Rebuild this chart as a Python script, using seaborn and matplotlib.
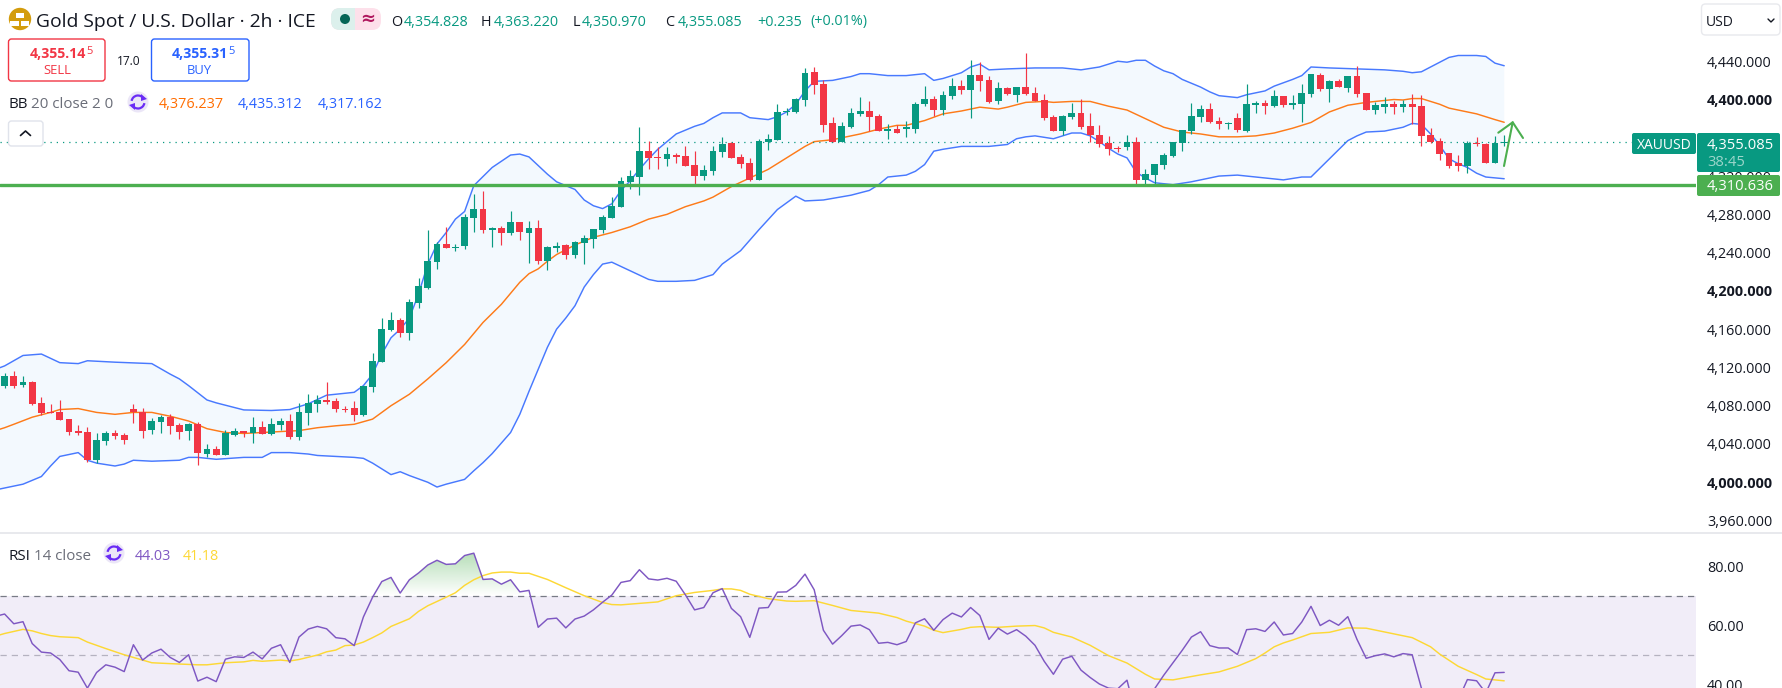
import numpy as np
import matplotlib
matplotlib.use("Agg")
import matplotlib.pyplot as plt
from matplotlib.patches import Circle, FancyBboxPatch, Rectangle, Arc, Polygon
import seaborn as sns

opens = [4101,4111,4102,4105,4083,4073,4073,4066,4054,4052.5,
         4023,4043,4052,4049,4077,4073,4055,4063,4068,4060,
         4054,4061,4030,4035,4029,4049,4054,4051,4058,4050,
         4060,4064,4047,4072,4082,4086,4085,4077,4078,4070,
         4100,4126,4159,4170,4156,4187,4203,4230,4249,4245,
         4247,4276,4286,4264,4266,4261,4272,4261,4266,4231,
         4245,4248,4238,4250,4254,4264,4276,4288,4314,4319,
         4346,4340,4338,4342,4341,4332,4320,4325,4345,4355,
         4340,4334,4316,4356,4358,4387,4387,4400,4429,4416,
         4375,4356,4371,4385,4388,4383,4367,4369,4369,4369,
         4395,4401,4389,4404,4414,4410,4426,4420,4398,4412,
         4405,4413,4407,4399,4382,4367,4382,4386,4372,4363,
         4355,4349,4350,4356,4316,4321,4332,4341,4355,4367,
         4382,4390,4378,4374,4381,4367,4394,4396,4393,4404,
         4394,4395,4406,4426,4411,4419,4412,4425,4407,4389,
         4392,4395,4392,4395,4393,4363,4357,4344,4334,4331,
         4355,4354,4334,4354.828]
highs = [4114,4116,4111,4106,4089,4082,4086,4066,4060,4058,
         4051,4054,4055,4051,4082,4078,4067,4070,4071,4062,
         4062,4063,4040,4038,4055,4057,4054,4068,4064,4067,
         4067,4071,4083,4092,4091,4105,4088,4080,4085,4101,
         4135,4172,4178,4172,4192,4213,4264,4251,4267,4249,
         4280,4301,4304,4267,4268,4284,4272,4273,4274,4247,
         4251,4249,4252,4258,4265,4279,4298,4319,4326,4371,
         4357,4350,4350,4344,4351,4346,4332,4351,4361,4356,
         4343,4339,4359,4364,4395,4391,4402,4433,4434,4420,
         4382,4376,4391,4403,4398,4385,4374,4373,4378,4397,
         4414,4404,4409,4423,4420,4441,4439,4425,4418,4413,
         4413,4449,4413,4406,4384,4384,4396,4401,4386,4373,
         4362,4351,4363,4361,4327,4333,4344,4356,4368,4396,
         4394,4396,4382,4376,4386,4416,4398,4400,4410,4404,
         4405,4416,4427,4428,4420,4421,4425,4435,4407,4397,
         4403,4398,4399,4406,4405,4370,4360,4344,4342,4357,
         4361,4355,4362,4363.22]
lows = [4098,4098,4100,4081,4070,4072,4065,4049,4049,4021.5,
        4020,4039,4045,4040,4062,4046,4050,4052,4050,4045,
        4044,4018,4026,4028.5,4029,4048,4047,4041,4050,4049,
        4055,4045,4044,4060,4073,4082,4073,4073,4064,4069,
        4094,4126,4158,4152,4149,4182,4202,4223,4245,4242,
        4244,4262,4260,4246,4248,4258,4253,4229,4228,4222,
        4241,4233,4234,4228,4245,4260,4276,4288,4307,4300,
        4327,4327,4331,4334,4331,4312,4316,4321,4340,4339,
        4328,4315,4316,4347,4358,4384,4386,4393,4406,4366,
        4356,4356,4370,4383,4367,4367,4359,4365,4361,4365,
        4393,4383,4384,4401,4406,4381,4409,4396,4395,4405,
        4397,4405,4398,4379,4367,4363,4380,4369,4356,4350,
        4342,4345,4347,4310,4310,4310,4327,4340,4346,4364,
        4377,4375,4369,4369,4366,4366,4386,4385,4392,4392,
        4390,4376,4403,4409,4397,4413,4408,4403,4389,4385,
        4386,4385,4387,4374,4351,4355,4337,4328,4325,4323,
        4351,4334,4334,4350.97]
closes = [4111,4101,4105,4082,4072,4072.4,4065,4053,4051.5,4023,
          4044,4052,4048,4044,4073,4054,4064,4068,4059,4053,
          4061,4031,4035,4028.5,4051,4054,4051.5,4058,4050.5,4061,
          4064,4047,4073,4083,4086,4084,4077,4076,4070,4101,
          4127,4160,4170,4156,4188,4205,4231,4249,4245,4246,
          4277,4286,4264,4266,4261,4272,4262,4266,4231,4246,
          4247,4238,4251,4255,4265,4277,4289,4315,4320,4346,
          4339,4339,4343,4340,4331,4320,4326,4346,4354,4339,
          4333,4316,4357,4359,4387,4388,4401,4428,4415,4373,
          4356,4372,4386,4388,4382,4367,4369,4365,4371,4395,
          4401,4389,4405,4414,4410,4426,4419,4397,4412,4406,
          4413,4406,4398,4381,4367,4383,4386,4371,4363,4354,
          4348,4348,4356,4316,4322,4333,4342,4356,4368,4383,
          4390,4377,4374,4375,4368,4395,4396,4393,4404,4394,
          4396,4407,4427,4411,4419,4413,4425,4406,4389,4394,
          4395,4392,4395,4392,4362,4356,4343,4331,4331,4355,
          4353,4334,4354.8,4355.085]

# bollinger bands, read at the bars where the line visibly bends
upper_bars = [-1,0,2,4,6,8,9,12,16,18,19,20,22,23,26,29,31,33,35,38,39,40,41,42,43,44,45,46,47,48,49,50,51,53,55,56,57,59,60,62,63,
              64,65,66,67,68,69,70,71,73,75,76,77,78,80,81,83,84,85,86,87,88,90,92,93,94,96,98,100,101,102,104,105,106,107,109,112,
              115,117,119,121,122,123,124,125,126,127,128,130,131,132,134,135,137,138,140,141,142,144,147,150,152,153,154,155,156,
              157,158,160,161,162,163]
upper = [4118,4121.6,4132.5,4134,4125,4124,4127,4125.5,4124,4113,4108,4101,4086,4083,4075.6,4075,4076,4082,4091,4094,4101,4113,4134,4151,4160,
         4171.6,4197,4228,4249,4261,4275,4283,4310,4329,4342,4343,4340,4322,4314,4306,4295,
         4289,4286,4291,4305,4315,4327,4338,4348,4364,4372,4375,4381,4386,4386,4381,4379,4382,4387,4395,4409,4419,4420,4424,4427,4427,4425,
         4425,4427,4420,4422,4428,4434,4437,4431,4432,4433,
         4433,4431,4434,4440,4439,4441,4441,4435,4430,4427,4421,4413,4408,4404,4402,4405,4409,4414,4421,4425,4434,4433,4432,4431,4429.5,
         4428,4429,4434,4439,4444,4446,4446,4445,4438,4435.3]
lower_bars = [-1,0,2,4,5,6,8,9,10,12,13,14,16,19,20,21,23,26,28,29,31,33,34,36,38,39,40,41,42,43,44,46,47,48,50,51,52,53,55,56,57,58,59,
              60,61,62,63,64,65,66,68,70,71,73,75,77,78,80,82,84,86,87,89,92,94,95,96,98,99,100,101,102,104,107,109,110,111,112,114,
              116,117,118,119,120,121,122,123,124,125,127,129,131,132,134,136,139,141,142,144,146,147,148,150,151,152,153,154,155,156,
              157,158,159,160,161,163]
lower = [3992,3994,3998,4006,4017,4027,4031,4023,4020,4017,4019,4023,4022,4023,4026,4026,4024,4026,4026,4031,4031,4029.5,4028,4027,4026,4025,4020,
         4014,4008,4011,4007,4000,3995,3998,4003,4012,4020.5,4030,4052,4071,4095,4118,4141,
         4160,4171.6,4184.5,4204,4217,4228,4230,4221,4212,4210,4210,4211,4217,4228,4242,4264,4285,4299,4294,4295,4300,4305,4311,4319,4321,
         4325,4332,4346,4348,4351,4351,4353,4359,4361,4362,4359,
         4365,4365,4362,4356,4349,4343,4339,4324,4318,4313,4311,4314,4318,4320,4321,4319,4316,4319,4319,4338,4357,4362,4366,4367,4369,4371,
         4375,4374,4364,4352,4338,4333,4329,4323,4319,4317.2]
middle_bars = [-1,0,1,3,5,6,8,10,12,14,16,18,20,22,24,26,28,30,32,34,36,38,40,42,44,46,48,50,52,54,56,57,58,59,60,62,64,66,68,70,72,74,76,
               77,79,81,83,85,87,88,90,93,95,97,98,100,102,104,106,108,109,111,113,114,116,118,120,122,124,126,128,130,132,134,136,138,
               140,142,144,146,148,151,152,153,154,155,156,157,158,160,162,163]
middle = [4054,4057,4060.6,4068,4073,4076,4077,4073,4071,4073,4073,4069,4064,4056,4052,4051,4052,4053,4054,4057,4059,4060.6,4066,4080,4092,4108,
          4125,4144,4167,4186,4209,4218,4223,4231,4238,4248,4256,4261,4267,4275,4280,4288,4294,
          4298,4309,4318,4327,4339,4351,4356,4358,4364,4369,4373,4373,4378,4385,4388,4392,4390,4392,4397,4398,4397,4398,4398,4393,4389,4380,
          4371,4366,4364,4361,4361,4362,4365,
          4370,4376,4387,4394,4397,4400,4399.5,4401,4401,4398,4395,4391,4389,4385,4379,4376.2]

rsi_bars = list(range(-1, 164))
rsi = [63.0,63.8,60.5,61.2,53.8,50.9,50.6,48.4,44.6,44.1,38.7,44.0,46.6,45.8,44.3,53.4,48.2,50.6,51.9,49.1,47.4,
       50.0,41.1,42.4,40.9,48.5,49.3,49.1,50.9,48.6,52.2,53.4,47.4,56.0,58.7,59.6,58.8,55.8,55.4,53.1,62.8,
       69.5,74.8,76.2,70.9,75.4,77.7,80.4,82.0,80.6,80.8,83.6,84.4,75.5,75.7,73.9,75.4,71.3,71.8,59.3,62.1,
       62.4,59.1,62.1,63.1,65.2,67.8,70.2,74.5,75.1,78.8,75.7,75.3,75.9,74.9,70.3,65.2,66.0,71.0,72.4,65.7,
       62.9,55.9,65.8,66.0,71.2,71.3,73.5,77.3,72.0,58.3,53.6,56.5,59.7,60.1,58.5,53.9,54.2,53.4,54.5,60.8,
       62.2,58.3,61.9,64.1,62.8,66.0,63.3,55.2,59.0,57.0,58.5,56.3,53.2,47.8,43.4,48.5,49.5,44.8,42.3,40.1,
       38.7,38.5,41.4,29.1,34.7,38.5,43.1,47.3,51.5,56.0,57.8,53.1,52.3,52.3,50.1,58.5,58.8,57.9,61.1,56.7,
       57.2,61.1,66.4,59.9,61.7,60.0,62.9,55.2,48.8,49.7,50.3,49.3,50.4,50.0,38.7,35.8,32.4,31.3,34.7,41.6,
       41.2,37.1,43.9,44.03]
rsi_ma_bars = [-1,0,2,3,4,5,6,8,9,11,13,14,16,18,21,22,24,26,27,28,30,31,32,34,35,36,37,38,39,40,41,42,44,45,46,48,49,50,51,52,53,54,55,56,57,
               59,61,63,65,66,67,69,71,73,75,77,78,79,80,81,83,85,86,88,90,92,95,97,98,100,101,102,104,105,106,108,110,112,113,114,116,
               118,120,122,124,125,127,130,132,134,136,137,138,139,140,142,144,146,148,153,155,156,158,160,161,163]
rsi_ma = [56.3,57.2,58.6,58.1,57.2,56.5,56.1,55.8,54.3,52.1,50.0,49.1,47.3,47.0,46.6,46.6,47.3,47.6,48.1,47.8,48.2,47.9,48.4,49.9,51.0,51.6,53.1,53.3,
          54.3,55.8,57.4,59.6,62.2,64.7,66.6,69.5,71.0,73.5,75.4,76.8,77.7,78.0,78.0,77.6,77.6,
          75.5,72.7,70.0,67.7,67.0,66.9,67.4,67.9,70.0,71.1,71.8,72.3,72.3,71.8,70.5,69.0,68.2,68.1,68.3,66.7,65.0,64.1,62.6,61.4,59.7,58.3,57.5,
          58.6,59.3,59.5,59.3,59.7,59.9,59.1,57.6,56.0,
          53.2,49.7,47.2,43.4,41.8,41.5,43.2,44.2,46.1,48.7,50.6,52.7,54.0,55.0,57.2,57.6,59.1,59.0,55.8,52.7,50.2,46.1,43.3,41.8,41.18]

price_ticks = [4440,4400,4360,4320,4280,4240,4200,4160,4120,4080,4040,4000,3960]
bold_ticks = [4400,4200,4000]
rsi_ticks = [80,60,40]
support = 4310.636
last_price = 4355.085

GREEN = "#089981"
RED = "#f23645"
BLUE = "#2962ff"
ORANGE = "#ff6d00"
LINE_GREEN = "#4caf50"
PURPLE = "#7e57c2"
YELLOW = "#fdd835"
INK = "#131722"
GREY = "#6a6d78"

W, H = 1783, 688
PANEL_R = 1696
PANEL_SPLIT = 532.5

sns.set_theme(style="white")
plt.rcParams["font.family"] = ["Open Sans", "DejaVu Sans"]

fig = plt.figure(figsize=(W / 100, H / 100), dpi=100, facecolor="white")
ax = fig.add_axes([0, (H - PANEL_SPLIT) / H, PANEL_R / W, PANEL_SPLIT / H])
ax_rsi = fig.add_axes([0, 0, PANEL_R / W, (H - PANEL_SPLIT) / H])
xlim = (-0.5, (PANEL_R - 4.6) / 9.2)

# price panel
bars = np.arange(len(opens))
o, h, l, c = map(np.array, (opens, highs, lows, closes))
colors = np.where(c >= o, GREEN, RED)

ax.fill(np.r_[upper_bars, lower_bars[::-1]], np.r_[upper, lower[::-1]], color="#2196f3", alpha=0.05, lw=0)
sns.lineplot(x=upper_bars, y=upper, ax=ax, color=BLUE, lw=1.05, alpha=0.85)
sns.lineplot(x=lower_bars, y=lower, ax=ax, color=BLUE, lw=1.05, alpha=0.85)
sns.lineplot(x=middle_bars, y=middle, ax=ax, color=ORANGE, lw=1.05, alpha=0.9)

ax.vlines(bars, l, h, colors=colors, lw=0.85, zorder=3)
ax.bar(bars, np.abs(c - o), bottom=np.minimum(o, c), width=0.76, color=colors, lw=0, zorder=3)

ax.axhline(last_price, color=GREEN, lw=0.9, ls=(0, (1, 4)), zorder=2)
ax.axhline(support, color=LINE_GREEN, lw=2.4, zorder=4)

ax.set_xlim(*xlim)
ax.set_ylim(3947.5, 4504)
ax.set_xticks([])
ax.yaxis.tick_right()
ax.set_yticks(price_ticks)
ax.set_yticklabels([f"{t:,.3f}" for t in price_ticks], fontsize=10.4, color=INK)
for t, lab in zip(price_ticks, ax.get_yticklabels()):
    if t in bold_ticks:
        lab.set_fontweight("bold")
ax.tick_params(axis="y", length=0, pad=8)
sns.despine(ax=ax, left=True, right=True, top=True, bottom=True)

# rsi panel
ax_rsi.axhspan(30, 70, color=PURPLE, alpha=0.1, lw=0)
ax_rsi.axhline(70, color="#787b86", lw=0.9, ls=(0, (5, 4)))
ax_rsi.axhline(50, color="#b5b2c0", lw=0.9, ls=(0, (5, 4)))

fill = ax_rsi.fill_between(rsi_bars, 70, rsi, where=np.array(rsi) >= 70, interpolate=True, color="none", lw=0)
shade = np.zeros((64, 2, 4))
shade[..., :3] = matplotlib.colors.to_rgb(LINE_GREEN)
shade[..., 3] = np.repeat(np.linspace(0.42, 0, 64)[:, None], 2, axis=1)
im = ax_rsi.imshow(shade, extent=(0, 163, 70, 85), aspect="auto", zorder=1)
im.set_clip_path(fill.get_paths()[0], transform=ax_rsi.transData)

sns.lineplot(x=rsi_ma_bars, y=rsi_ma, ax=ax_rsi, color=YELLOW, lw=1.05, zorder=3)
sns.lineplot(x=rsi_bars, y=rsi, ax=ax_rsi, color=PURPLE, lw=1.05, zorder=4)

ax_rsi.set_xlim(*xlim)
ax_rsi.set_ylim(38.75, 91.4)
ax_rsi.set_xticks([])
ax_rsi.yaxis.tick_right()
ax_rsi.set_yticks(rsi_ticks)
ax_rsi.set_yticklabels([f"{t:.2f}" for t in rsi_ticks], fontsize=10.4, color=INK)
ax_rsi.tick_params(axis="y", length=0, pad=8)
ax_rsi.set_xlabel("")
ax_rsi.set_ylabel("")
ax.set_xlabel("")
ax.set_ylabel("")
sns.despine(ax=ax_rsi, left=True, right=True, top=True, bottom=True)

# header widgets, laid out in screen pixels
top = fig.add_axes([0, 0, 1, 1], zorder=10)
top.set_xlim(0, W)
top.set_ylim(H, 0)
top.axis("off")
top.patch.set_alpha(0)


def label(x, y, s, color=INK, size=9.6, weight="normal", ha="left"):
    top.text(x, y, s, color=color, fontsize=size, fontweight=weight, ha=ha, va="center_baseline")


def box(x0, y0, x1, y1, face="white", edge="none", lw=1.0, r=3):
    top.add_patch(FancyBboxPatch((x0 + r, y0 + r), x1 - x0 - 2 * r, y1 - y0 - 2 * r,
                                 boxstyle=f"round,pad={r},rounding_size={r}", fc=face, ec=edge, lw=lw))


def sync_icon(cx, cy):
    top.add_patch(Circle((cx, cy), 10.5, fc="#ebe6f7", ec="none"))
    top.add_patch(Arc((cx, cy), 13, 13, theta1=190, theta2=330, color="#6a2cf5", lw=1.6))
    top.add_patch(Arc((cx, cy), 13, 13, theta1=10, theta2=150, color="#6a2cf5", lw=1.6))
    top.add_patch(Polygon([(cx + 3, cy - 8), (cx + 9, cy - 3), (cx + 3, cy - 1)], fc="#6a2cf5", ec="none"))
    top.add_patch(Polygon([(cx - 3, cy + 8), (cx - 9, cy + 3), (cx - 3, cy + 1)], fc="#6a2cf5", ec="none"))


top.add_patch(Circle((20, 19), 11.2, fc="#d39c0c", ec="none"))
for rx, ry in [(16, 12.5), (10.5, 20.5), (21, 20.5)]:
    top.add_patch(Rectangle((rx, ry), 8.5, 5.5, fc="white", ec="none"))

label(36, 20, "Gold Spot / U.S. Dollar · 2h · ICE", size=13.9)

box(331, 8, 381, 30, face="#fde0ea", r=9)
top.add_patch(Rectangle((340, 8), 15.5, 22, fc="#dcf0ec", ec="none"))
box(331, 8, 350, 30, face="#dcf0ec", r=9)
top.add_patch(Circle((345, 19), 5, fc="#056656", ec="none"))
top.text(368, 19, "≈", color="#b0195f", fontsize=13, fontweight="bold", ha="center", va="center",
         family="DejaVu Sans")

for x, letter, value in [(391, "O", "4,354.828"), (481, "H", "4,363.220"), (573, "L", "4,350.970"), (665, "C", "4,355.085")]:
    label(x, 20, letter, size=10.4)
    label(x + (13 if letter != "L" else 9), 20, value, color=GREEN, size=10.4)
label(757, 20, "+0.235", color=GREEN, size=10.4)
label(810, 20, "(+0.01%)", color=GREEN, size=10.4)

box(8.5, 39, 105, 81, edge=RED, lw=1)
label(86, 52, "4,355.14", color=RED, size=10.2, weight="bold", ha="right")
label(86.5, 50, "5", color=RED, size=8)
label(57, 69, "SELL", color=RED, size=9.4, ha="center")
label(128.5, 60, "17.0", size=8.6, ha="center")
box(151.5, 39, 249, 81, edge=BLUE, lw=1)
label(228, 52, "4,355.31", color=BLUE, size=10.2, weight="bold", ha="right")
label(228.5, 50, "5", color=BLUE, size=8)
label(199, 69, "BUY", color=BLUE, size=9.4, ha="center")

label(8.4, 102, "BB", size=10.9)
label(30.6, 102, "20 close 2 0", color=GREY, size=10.9)
sync_icon(138, 102)
label(159, 102, "4,376.237", color=ORANGE, size=10.4)
label(238, 102, "4,435.312", color=BLUE, size=10.4)
label(318, 102, "4,317.162", color=BLUE, size=10.4)

box(8.5, 121, 43, 146, edge="#e0e3eb", lw=1)
top.plot([20.5, 25.5, 30.5], [135.5, 131, 135.5], color=INK, lw=1.2)

# arrow drawn on the chart
top.plot([1504, 1512.7, 1498.3], [166, 122.3, 132.7], color=LINE_GREEN, lw=1.5)
top.plot([1512.7, 1523], [122.3, 138], color=LINE_GREEN, lw=1.5)

# price labels on the scale
box(1632, 133, 1696, 154, face=GREEN, r=2)
label(1664, 143.5, "XAUUSD", color="white", size=10, ha="center")
box(1697, 133, 1780, 172, face=GREEN, r=2)
label(1707, 143.5, "4,355.085", color="white", size=10.6)
label(1707, 160.5, "38:45", color="#9cd6cb", size=10.6)
box(1697, 175, 1780, 196, face=LINE_GREEN, r=2)
label(1707, 185, "4,310.636", color="white", size=10.6)

box(1701.5, 4, 1780, 35, edge="#e8e9ed", lw=1, r=4)
label(1706, 20.5, "USD", size=10)
top.plot([1768, 1771, 1774], [19, 22, 19], color=INK, lw=1)

top.plot([0, W], [PANEL_SPLIT, PANEL_SPLIT], color="#e8e9ed", lw=1.4)

label(8.4, 554, "RSI", size=10.9)
label(33.7, 554, "14 close", color=GREY, size=10.9)
sync_icon(114, 553)
label(135, 554, "44.03", color=PURPLE, size=10.4)
label(183, 554, "41.18", color=YELLOW, size=10.4)

fig.savefig("out.png", dpi=100)
